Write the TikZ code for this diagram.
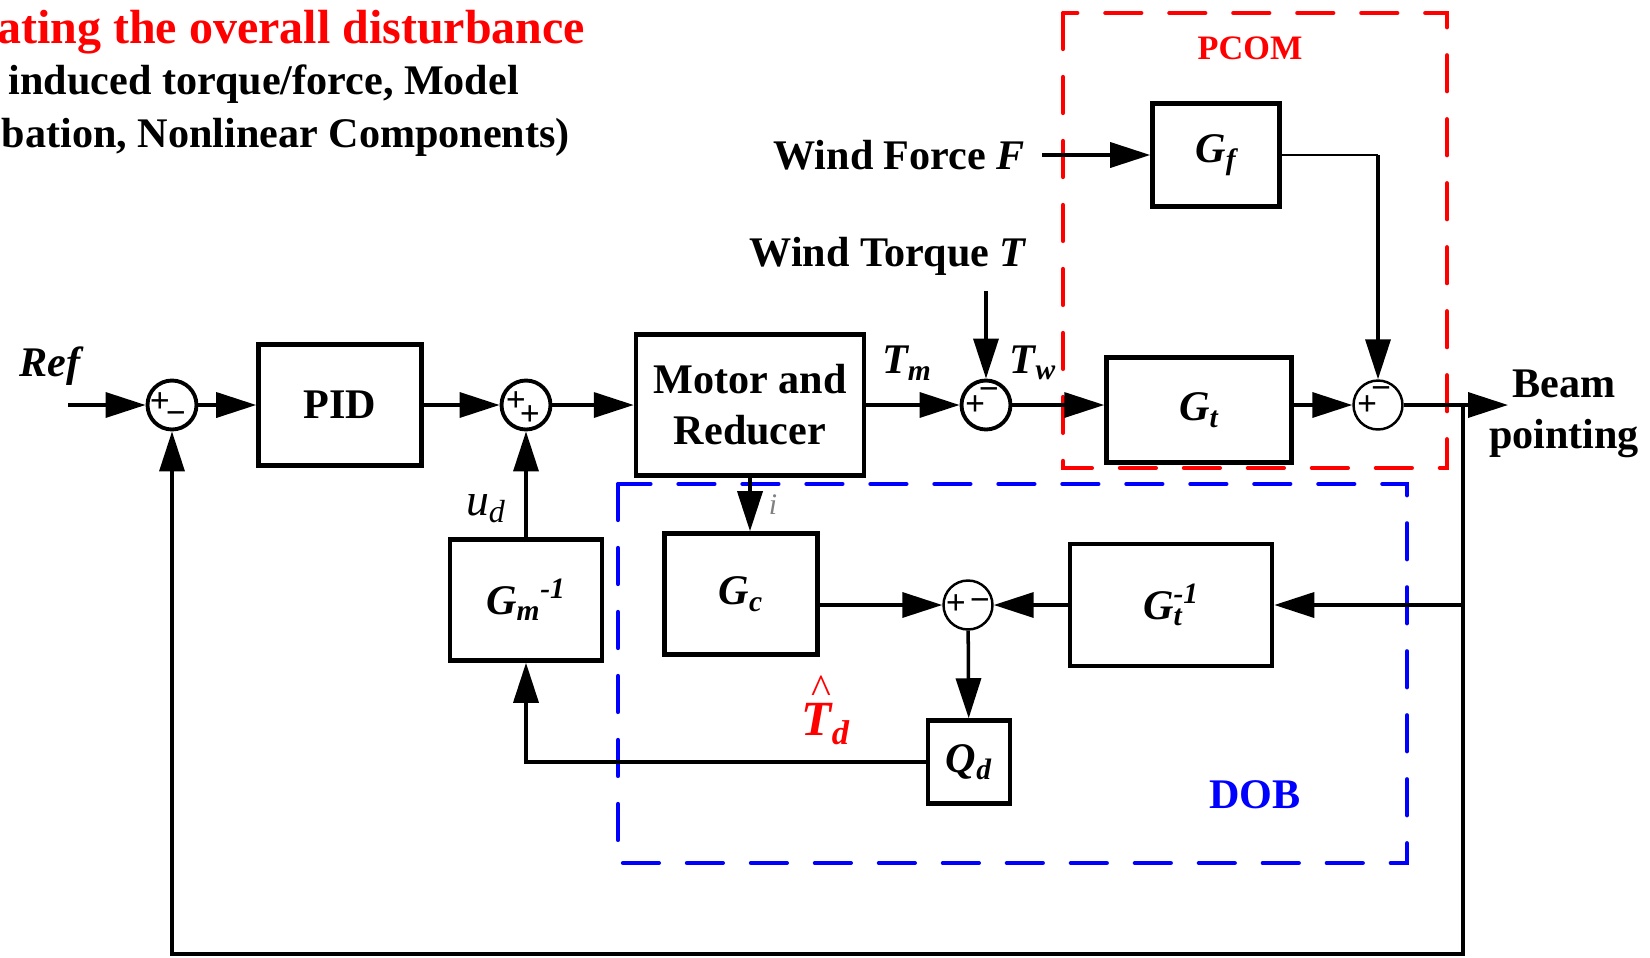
\documentclass[tikz,border=0pt]{standalone}
\usepackage{fontspec}
\setmainfont{Liberation Serif}
\usetikzlibrary{arrows.meta,positioning,calc}

\begin{document}
\begin{tikzpicture}[
  x=0.02cm, y=-0.02cm,
  font=\fontsize{24}{29}\selectfont\bfseries,
  box/.style={draw, line width=2.6pt, inner sep=0pt, align=center},
  sum/.style={draw, circle, line width=2.2pt, minimum size=0.98cm, inner sep=0pt},
  thinsum/.style={sum, line width=1.4pt},
  sgn/.style={font=\fontsize{20}{20}\selectfont\bfseries, inner sep=0pt},
  var/.style={font=\fontsize{24}{29}\selectfont\bfseries\itshape, inner sep=1pt},
  lab/.style={inner sep=1pt, align=center},
  arr/.style={-{Triangle[length=0.8cm, width=0.5cm]}, line width=2pt},
  frame/.style={line width=2.4pt, dash pattern=on 0.72cm off 0.56cm, line cap=round}
]
\useasboundingbox (0,0) rectangle (1650,957);

% title, cut at the left edge
\node[lab, anchor=east, text=red, font=\fontsize{27.3}{30}\selectfont\bfseries] (t1) at (587,32) {ating the overall disturbance};
\node[lab, anchor=east] (t2) at (521,84) {induced torque/force, Model};
\node[lab, anchor=east] (t3) at (572,137) {bation, Nonlinear Components)};

% frames
\draw[frame, red] (1063,13) rectangle (1447,468);
\draw[frame, blue] (618,484) rectangle (1407,863);
\node[lab, text=red, font=\fontsize{19.5}{22}\selectfont\bfseries] (pcom) at (1250,48) {PCOM};
\node[lab, text=blue] (dob) at (1255,795) {DOB};

% forward path
\node[var] (ref) at (50,366) {Ref};
\coordinate (in) at (68,405);
\node[sum] (s1) at (172,405) {};
\node[box, minimum width=3.26cm, minimum height=2.42cm] (pid) at (340,405) {PID};
\node[sum] (s2) at (526,405) {};
\node[box, minimum width=4.56cm, minimum height=2.82cm] (motor) at (750,405) {Motor and\\Reducer};
\node[sum] (s3) at (986,405) {};
\node[box, minimum width=3.7cm, minimum height=2.1cm, font=\fontsize{24}{29}\selectfont\bfseries\itshape] (gt) at (1199,410) {G\textsubscript{t}};
\node[thinsum] (s4) at (1378,405) {};
\coordinate (j1) at (1463,405);
\coordinate (out) at (1508,405);
\node[lab] (beam) at (1564,414) {Beam\\pointing};

\node[var] (tm) at (907,363) {T\textsubscript{m}};
\node[var] (tw) at (1033,363) {T\textsubscript{w}};

% wind inputs
\node[lab, anchor=east] (wt) at (1029,256) {Wind Torque \textit{T}};
\coordinate (wtin) at (986,291);
\node[lab, anchor=east] (wf) at (1027,155) {Wind Force \textit{F}};
\coordinate (wfin) at (1042,155);
\node[box, minimum width=2.54cm, minimum height=2.06cm, font=\fontsize{24}{29}\selectfont\bfseries\itshape] (gf) at (1216,155) {G\textsubscript{f}};

% disturbance observer
\node[box, minimum width=4.04cm, minimum height=2.44cm, font=\fontsize{24}{29}\selectfont\bfseries\itshape] (gtinv) at (1171,605) {G\rlap{\textsubscript{t}}\textsuperscript{-1}};
\node[thinsum] (s5) at (968,605) {};
\node[box, minimum width=3.06cm, minimum height=2.42cm, font=\fontsize{24}{29}\selectfont\bfseries\itshape] (gc) at (741,594) {G\textsubscript{c}};
\node[box, minimum width=1.64cm, minimum height=1.66cm, font=\fontsize{24}{29}\selectfont\bfseries\itshape] (qd) at (969,762) {Q\textsubscript{d}};
\node[box, minimum width=3.04cm, minimum height=2.42cm, font=\fontsize{24}{29}\selectfont\bfseries\itshape] (gminv) at (526,600) {G\textsubscript{m}\textsuperscript{-1}};
\node[lab, font=\fontsize{26}{29}\selectfont\mdseries\itshape] (ud) at (486,509) {u\textsubscript{d}};
\node[lab, text=gray, font=\fontsize{17}{20}\selectfont\itshape] (icur) at (773,505) {i};
\node[var, text=red, font=\fontsize{28}{30}\selectfont\bfseries\itshape,
      label={[text=red, font=\fontsize{24}{24}\selectfont\mdseries, inner sep=0pt, yshift=-0.06cm, xshift=-0.1cm]north:\textasciicircum}] (td) at (826,724) {T\textsubscript{d}};
\coordinate (bot) at (1463,954);

% signs
\node[sgn] at ($(s1)+(-12,-2)$) {+};
\node[sgn] at ($(s1)+(4,13)$) {−};
\node[sgn] at ($(s2)+(-10,-3)$) {+};
\node[sgn] at ($(s2)+(4,11)$) {+};
\node[sgn] at ($(s3)+(-11,1)$) {+};
\node[sgn] at ($(s3)+(3,-11)$) {−};
\node[sgn] at ($(s4)+(-11,1)$) {+};
\node[sgn] at ($(s4)+(3,-12)$) {−};
\node[sgn] at ($(s5)+(-12,0)$) {+};
\node[sgn] at ($(s5)+(12,0)$) {−};

% connectors
\draw[arr] (in) -- (s1);
\draw[arr] (s1) -- (pid);
\draw[arr] (pid) -- (s2);
\draw[arr] (s2) -- (motor);
\draw[arr] (motor) -- (s3);
\draw[arr] (s3.east) -- (s3.east -| gt.west);
\draw[arr] (gt.east |- s4) -- (s4);
\draw[arr] (s4) -- (out);
\draw[arr] (j1) -- (bot) -| (s1);
\draw[arr] (j1 |- gtinv) -- (gtinv);
\draw[arr] (gtinv) -- (s5);
\draw[arr] (gc.east |- s5) -- (s5);
\draw[arr] (motor.south) -- (motor.south |- gc.north);
\draw[arr] (s5) -- (qd);
\draw[arr] (qd.west) -| (gminv.south);
\draw[arr] (gminv) -- (s2);
\draw[arr] (wfin) -- (gf);
\draw[line width=1.1pt] (gf.east) -- (gf.east -| s4);
\draw[arr] (gf.east -| s4) -- (s4);
\draw[arr] (wtin) -- (s3);
\end{tikzpicture}
\end{document}
